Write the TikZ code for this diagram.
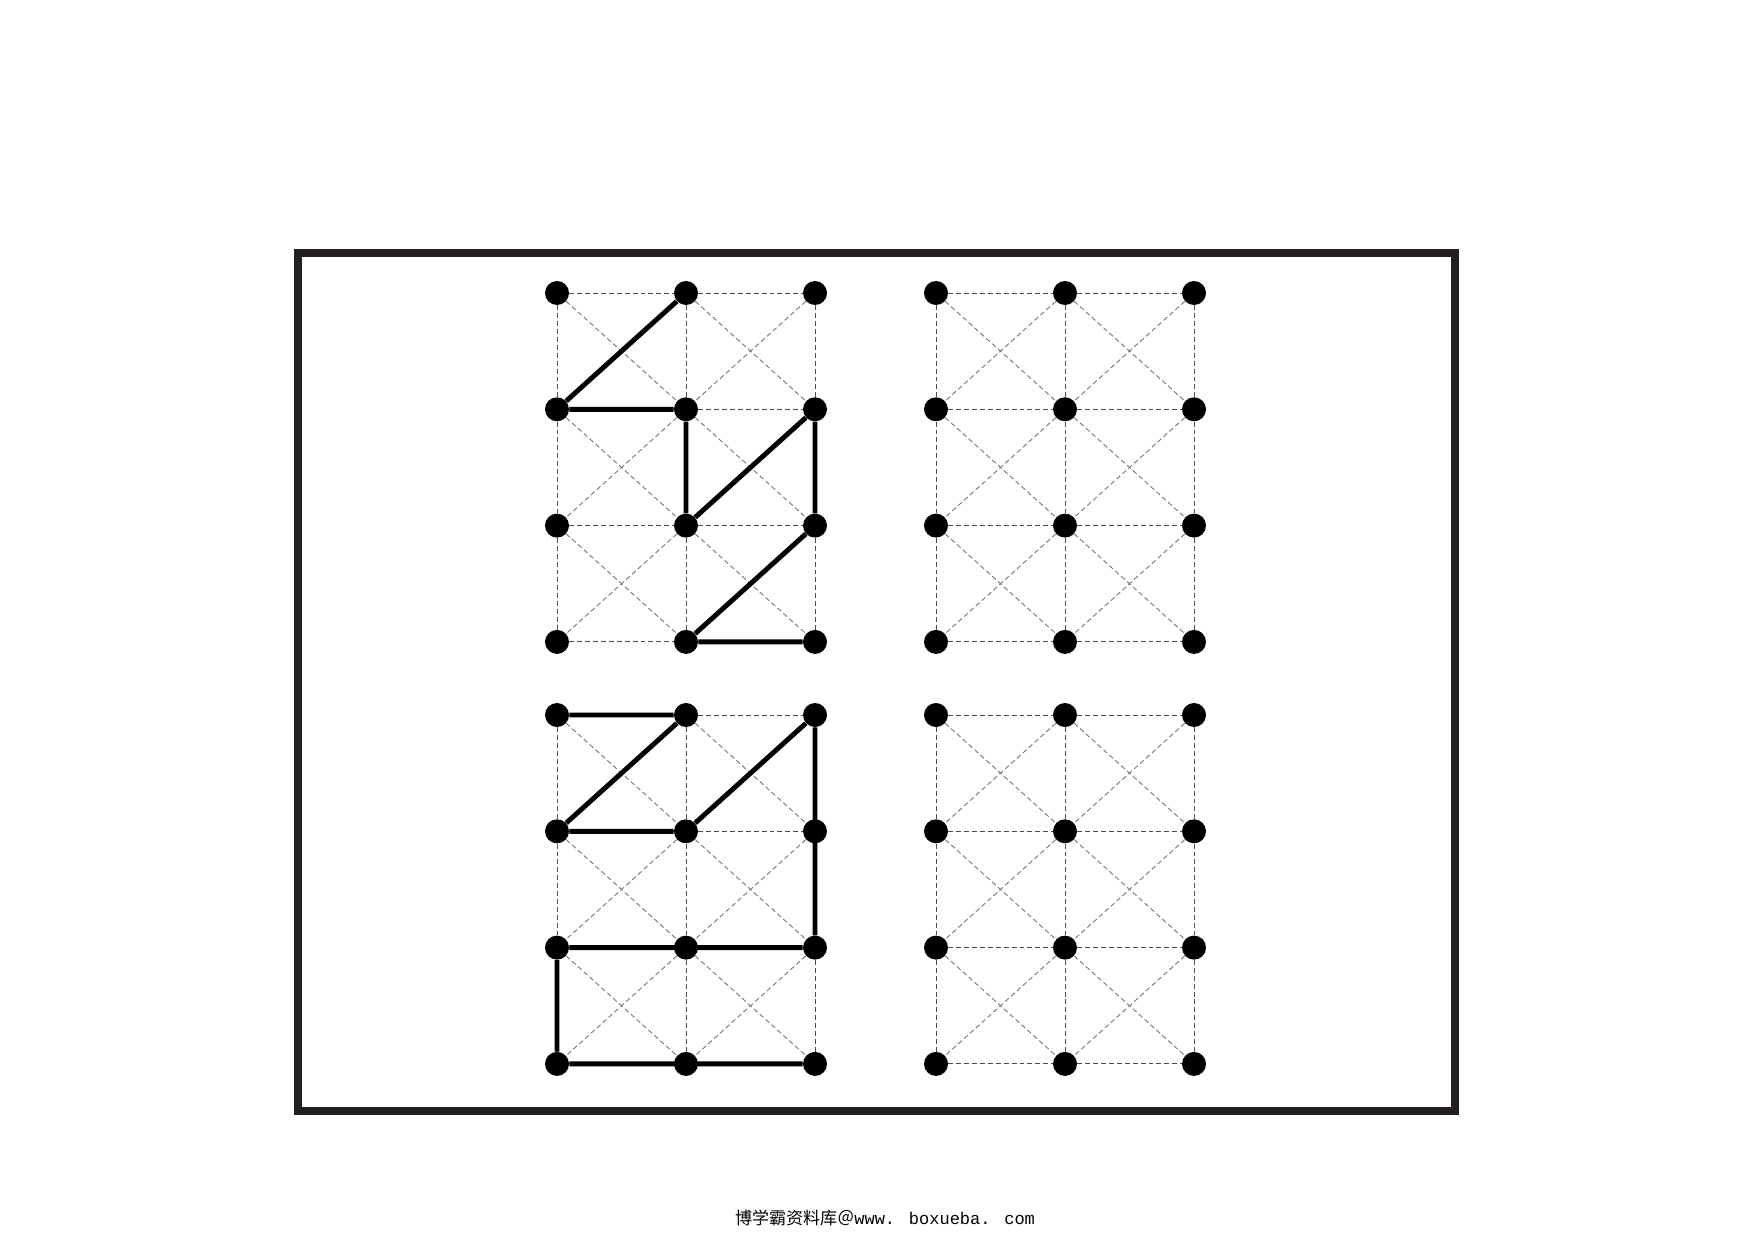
\documentclass[tikz,border=0pt]{standalone}
\usepackage{fontspec}
\newfontfamily\cjkfont{Noto Sans CJK SC}
\newfontfamily\urlfont{Liberation Mono}
\definecolor{framegray}{HTML}{231F20}
\begin{document}
	\begin{tikzpicture}[x=0.02cm, y=-0.02cm,
		dot/.style={circle, fill=black, inner sep=0pt, minimum size=0.48cm},
		gridline/.style={black!70, line width=0.5pt, dash pattern=on 2.8pt off 1.7pt},
		diagline/.style={black!55, line width=0.5pt, dash pattern=on 2.8pt off 1.7pt},
		thickline/.style={line width=2.8pt}]
		
		\useasboundingbox (0,0) rectangle (1753,1240);
		
		\draw[line width = 0.16cm, framegray] (298,253) rectangle (1455,1111);
		
		\foreach \g/\ox/\oy in {a/557/293, b/936/293, c/557/715, d/936/715} {
			\foreach \i in {0,1,2} {
				\foreach \j in {0,1,2,3} {
					\node[dot] (\g-\i-\j) at ({\ox+129*\i},{\oy+116.3*\j}) {};
				}
			}
			\foreach \i in {0,1,2} {
				\foreach \j [evaluate=\j as \jj using int(\j+1)] in {0,1,2} {
					\draw[gridline] (\g-\i-\j) -- (\g-\i-\jj);
				}
			}
			\foreach \i [evaluate=\i as \ii using int(\i+1)] in {0,1} {
				\foreach \j in {0,1,2,3} {
					\draw[gridline] (\g-\i-\j) -- (\g-\ii-\j);
				}
				\foreach \j [evaluate=\j as \jj using int(\j+1)] in {0,1,2} {
					\draw[diagline] (\g-\i-\j) -- (\g-\ii-\jj);
					\draw[diagline] (\g-\ii-\j) -- (\g-\i-\jj);
				}
			}
		}
		
		\draw[thickline] (a-1-0) -- (a-0-1) -- (a-1-1) -- (a-1-2) -- (a-2-1) -- (a-2-2) -- (a-1-3) -- (a-2-3);
		
		\draw[thickline] (c-0-0) -- (c-1-0) -- (c-0-1) -- (c-1-1) -- (c-2-0) -- (c-2-2) -- (c-0-2) -- (c-0-3) -- (c-2-3);
		
		\node[font=\fontsize{9.7pt}{11pt}\selectfont] (footer) at (885,1218) {\cjkfont 博学霸资料库＠\urlfont www. boxueba. com};
		
	\end{tikzpicture}
\end{document}
